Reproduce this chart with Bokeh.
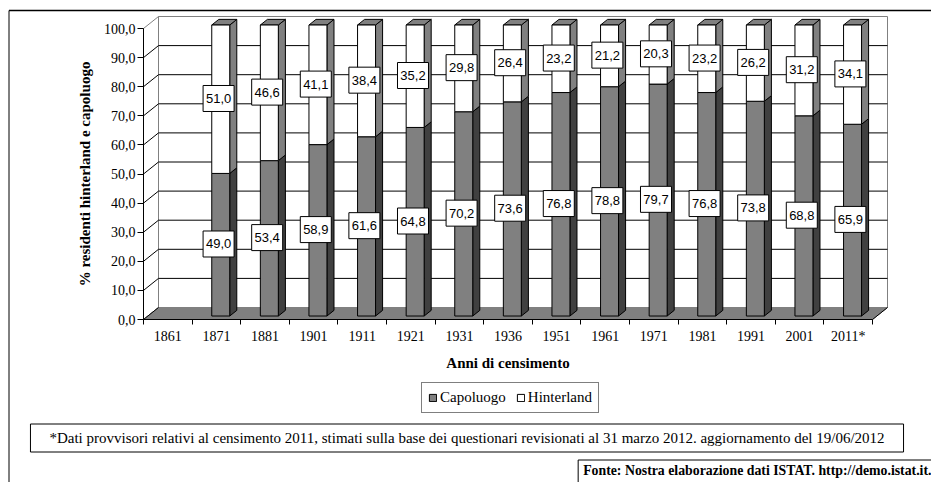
from bokeh.plotting import figure
from bokeh.models import (Range1d, LinearAxis, FixedTicker, Legend, LegendItem,
                          Label, ColumnDataSource)
from bokeh.embed import file_html
from bokeh.resources import INLINE
from bokeh.core.properties import value

# ---------------- data ----------------
years = ["1861", "1871", "1881", "1901", "1911", "1921", "1931", "1936",
         "1951", "1961", "1971", "1981", "1991", "2001", "2011*"]
capoluogo = [None, 49.0, 53.4, 58.9, 61.6, 64.8, 70.2, 73.6, 76.8, 78.8,
             79.7, 76.8, 73.8, 68.8, 65.9]
hinterland = [None, 51.0, 46.6, 41.1, 38.4, 35.2, 29.8, 26.4, 23.2, 21.2,
              20.3, 23.2, 26.2, 31.2, 34.1]
y_ticks = [0, 10, 20, 30, 40, 50, 60, 70, 80, 90, 100]

# ---------------- geometry / style ----------------
W, H = 931, 482
ORIG_X, ORIG_Y = 143, 319          # pixel position of (0, 0) inside the canvas
PX_X, PX_Y = 48.6, 2.91            # pixels per data unit
DX, DY = 15 / PX_X, 12 / PX_Y      # depth of the 3-D box in data units
F1, F2 = 0.29, 0.76                # front / back depth fraction of the bars
BW = 0.37                          # bar width (category units)
n = len(years)

GRAY = "#808080"
DARK = "#404040"
SERIF = "Liberation Serif"
SANS = "Liberation Sans"

def data_x(px):
    return (px - ORIG_X) / PX_X

def data_y(py):
    return (ORIG_Y - py) / PX_Y

p = figure(width=W, height=H, output_backend="svg", toolbar_location=None,
           x_range=Range1d(data_x(0), data_x(W)),
           y_range=Range1d(data_y(H), data_y(0)),
           x_axis_type=None, y_axis_type=None,
           min_border=0, min_border_left=0, min_border_right=0,
           min_border_top=0, min_border_bottom=0)
p.outline_line_color = None
p.background_fill_color = "white"
p.border_fill_color = "white"
p.xgrid.visible = False
p.ygrid.visible = False

# ---------------- outer frame lines (left and top) ----------------
fx, fy = data_x(8.5), data_y(10)
p.segment(x0=[fx], y0=[fy], x1=[data_x(W)], y1=[fy], line_color="black", line_width=1.5)
p.segment(x0=[fx], y0=[fy], x1=[fx], y1=[data_y(H)], line_color="black", line_width=1)

# ---------------- 3-D box: walls, floor, gridlines ----------------
top = max(y_ticks)
p.patch([DX, n + DX, n + DX, DX], [DY, DY, top + DY, top + DY],
        fill_color="white", line_color=GRAY, line_width=1)
p.patch([0, DX, DX, 0], [0, DY, top + DY, top],
        fill_color="white", line_color=GRAY, line_width=1)
p.patch([0, n, n + DX, DX], [0, 0, DY, DY],
        fill_color=GRAY, line_color=GRAY, line_width=1)

inner = y_ticks[1:-1]
p.segment(x0=[DX] * len(inner), y0=[v + DY for v in inner],
          x1=[n + DX] * len(inner), y1=[v + DY for v in inner],
          line_color="black", line_width=1)
diag = y_ticks[:-1]
p.segment(x0=[0] * len(diag), y0=diag,
          x1=[DX] * len(diag), y1=[v + DY for v in diag],
          line_color="black", line_width=1)
p.segment(x0=[n], y0=[0], x1=[n + DX], y1=[DY], line_color="black", line_width=1)

# ---------------- bars ----------------
idx = [i for i, c in enumerate(capoluogo) if c is not None]
y0 = F1 * DY
ddx, ddy = (F2 - F1) * DX, (F2 - F1) * DY
cx = [i + 0.5 + F1 * DX for i in idx]
lft = [c - BW / 2 for c in cx]
rgt = [c + BW / 2 for c in cx]
ctop = [y0 + capoluogo[i] for i in idx]
htop = [y0 + capoluogo[i] + hinterland[i] for i in idx]

src = ColumnDataSource(dict(left=lft, right=rgt, bottom=[y0] * len(idx),
                            ctop=ctop, htop=htop))

# side faces
p.patches(xs=[[r, r + ddx, r + ddx, r] for r in rgt],
          ys=[[y0, y0 + ddy, c + ddy, c] for c in ctop],
          fill_color=DARK, line_color="black", line_width=1)
p.patches(xs=[[r, r + ddx, r + ddx, r] for r in rgt],
          ys=[[c, c + ddy, h + ddy, h] for c, h in zip(ctop, htop)],
          fill_color=GRAY, line_color="black", line_width=1)
# top faces
p.patches(xs=[[l, r, r + ddx, l + ddx] for l, r in zip(lft, rgt)],
          ys=[[h, h, h + ddy, h + ddy] for h in htop],
          fill_color=GRAY, line_color="black", line_width=1)
# front faces
r_cap = p.quad(left="left", right="right", bottom="bottom", top="ctop", source=src,
               fill_color=GRAY, line_color="black", line_width=1)
r_hin = p.quad(left="left", right="right", bottom="ctop", top="htop", source=src,
               fill_color="white", line_color="black", line_width=1)

# ---------------- value labels ----------------
LX, LY = 0.045, 0.25
fmt = lambda v: f"{v:.1f}".replace(".", ",")
lab_x = [i + 0.5 + LX for i in idx] * 2
lab_y = ([y0 + capoluogo[i] / 2 + LY for i in idx] +
         [y0 + capoluogo[i] + hinterland[i] / 2 + LY for i in idx])
lab_t = [fmt(capoluogo[i]) for i in idx] + [fmt(hinterland[i]) for i in idx]
lsrc = ColumnDataSource(dict(x=lab_x, y=lab_y, t=lab_t))
p.rect(x="x", y="y", width=31, height=26, width_units="screen", height_units="screen",
       source=lsrc, fill_color="white", line_color="black", line_width=1)
p.text(x="x", y="y", text="t", source=lsrc, text_font=value(SANS),
       text_font_size="13px", text_align="center", text_baseline="middle",
       text_color="black")

# ---------------- axes ----------------
yaxis = LinearAxis(fixed_location=0, bounds=(0, top),
                   ticker=FixedTicker(ticks=y_ticks),
                   major_label_overrides={v: fmt(v) for v in y_ticks},
                   axis_label="% residenti hinterland e capoluogo")
yaxis.axis_line_color = "black"
yaxis.major_tick_line_color = "black"
yaxis.major_tick_out = 6
yaxis.major_tick_in = 0
yaxis.minor_tick_line_color = None
yaxis.major_label_standoff = 2
yaxis.major_label_text_font = SERIF
yaxis.major_label_text_font_size = "14px"
yaxis.major_label_text_color = "black"
yaxis.axis_label_text_font = SERIF
yaxis.axis_label_text_font_style = "bold"
yaxis.axis_label_text_font_size = "15px"
yaxis.axis_label_text_color = "black"
yaxis.axis_label_standoff = 8
p.add_layout(yaxis, "left")

xaxis_t = LinearAxis(fixed_location=0, bounds=(0, n),
                     ticker=FixedTicker(ticks=list(range(n + 1))),
                     major_label_overrides={i: "" for i in range(n + 1)})
xaxis_t.axis_line_color = "black"
xaxis_t.major_tick_line_color = "black"
xaxis_t.major_tick_out = 5
xaxis_t.major_tick_in = 0
xaxis_t.minor_tick_line_color = None
p.add_layout(xaxis_t, "below")

centers = [i + 0.5 for i in range(n)]
xaxis_l = LinearAxis(fixed_location=0, bounds=(0, n),
                     ticker=FixedTicker(ticks=centers),
                     major_label_overrides={c: y for c, y in zip(centers, years)},
                     axis_label="Anni di censimento")
xaxis_l.axis_line_color = None
xaxis_l.major_tick_line_color = None
xaxis_l.major_tick_out = 0
xaxis_l.major_tick_in = 0
xaxis_l.minor_tick_line_color = None
xaxis_l.major_label_standoff = 9
xaxis_l.major_label_text_font = SERIF
xaxis_l.major_label_text_font_size = "14px"
xaxis_l.major_label_text_color = "black"
xaxis_l.axis_label_text_font = SERIF
xaxis_l.axis_label_text_font_style = "bold"
xaxis_l.axis_label_text_font_size = "15px"
xaxis_l.axis_label_text_color = "black"
xaxis_l.axis_label_standoff = 8
p.add_layout(xaxis_l, "below")

# ---------------- legend ----------------
legend = Legend(items=[LegendItem(label="Capoluogo", renderers=[r_cap]),
                       LegendItem(label="Hinterland", renderers=[r_hin])],
                orientation="horizontal", location=(421, 69),
                border_line_color="black", border_line_width=1,
                background_fill_color="white", background_fill_alpha=1,
                label_text_font=SERIF, label_text_font_size="15px",
                label_text_color="black",
                glyph_width=9, glyph_height=9, label_standoff=3,
                label_height=16, spacing=10, padding=6, margin=0)
p.add_layout(legend)

# ---------------- notes ----------------
note = Label(x=466.5, y=44.5, x_units="screen", y_units="screen",
             text="*Dati provvisori relativi al censimento 2011, stimati sulla base dei "
                  "questionari revisionati al 31 marzo 2012. aggiornamento del 19/06/2012",
             text_font=SERIF, text_font_size="15px", text_color="black",
             text_align="center", text_baseline="middle",
             background_fill_color="white", border_line_color="black",
             border_line_width=1, padding=dict(left=19, right=19, top=6, bottom=6))
p.add_layout(note)

source_note = Label(x=934, y=6.5, x_units="screen", y_units="screen",
                    text="Fonte: Nostra elaborazione dati ISTAT. http://demo.istat.it.",
                    text_font=SERIF, text_font_size="13.8px", text_font_style="bold",
                    text_color="black", text_align="right", text_baseline="middle",
                    background_fill_color="white", border_line_color="black",
                    border_line_width=1, padding=dict(left=5, right=3, top=3, bottom=14))
p.add_layout(source_note)

open("out.html", "w").write(file_html(p, INLINE))
